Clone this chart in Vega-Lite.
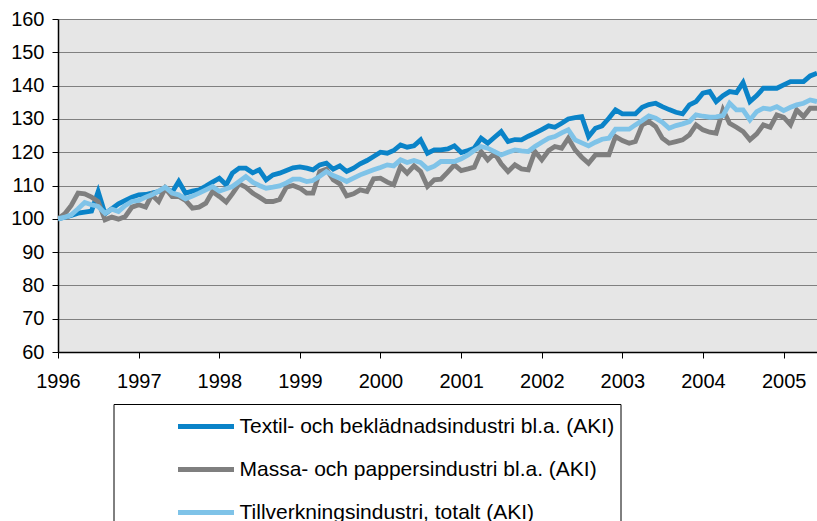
{
  "$schema": "https://vega.github.io/schema/vega-lite/v6.json",
  "autosize": "none",
  "width": 759,
  "height": 333,
  "padding": {"left": 58, "top": 19, "right": 0, "bottom": 169},
  "background": "white",
  "config": {
    "view": {"stroke": null, "fill": "#E6E6E6"},
    "font": "Liberation Sans",
    "axis": {"labelFont": "Liberation Sans", "labelFontSize": 20, "labelColor": "black", "domainColor": "black", "domainWidth": 1.5, "tickColor": "black", "tickWidth": 1, "tickSize": 6, "title": null}
  },
  "data": {
    "values": [
      {"d":"1996-01","T":100,"M":100,"V":100},{"d":"1996-02","T":100.5,"M":101.5,"V":100.5},{"d":"1996-03","T":101,"M":104,"V":101.2},{"d":"1996-04","T":101.7,"M":107.7,"V":103},{"d":"1996-05","T":102,"M":107.5,"V":104.9},{"d":"1996-06","T":102.3,"M":106.5,"V":104.2},{"d":"1996-07","T":108.2,"M":105.2,"V":103.7},{"d":"1996-08","T":101.5,"M":99.7,"V":101.7},{"d":"1996-09","T":103,"M":100.5,"V":102.9},{"d":"1996-10","T":104.5,"M":99.9,"V":102.2},{"d":"1996-11","T":105.5,"M":100.7,"V":104},{"d":"1996-12","T":106.5,"M":103.5,"V":105.2},
      {"d":"1997-01","T":107.2,"M":104.2,"V":105.5},{"d":"1997-02","T":107.3,"M":103.5,"V":106.5},{"d":"1997-03","T":107.7,"M":107.2,"V":107.2},{"d":"1997-04","T":108.2,"M":105.2,"V":108.3},{"d":"1997-05","T":109.3,"M":109.2,"V":109.5},{"d":"1997-06","T":108,"M":106.7,"V":107.7},{"d":"1997-07","T":111.2,"M":106.7,"V":107.2},{"d":"1997-08","T":107.7,"M":105.5,"V":106},{"d":"1997-09","T":108.3,"M":103.2,"V":106.8},{"d":"1997-10","T":108.7,"M":103.5,"V":107.7},{"d":"1997-11","T":109.8,"M":104.7,"V":108.7},{"d":"1997-12","T":111,"M":108.2,"V":109.7},
      {"d":"1998-01","T":112.2,"M":106.7,"V":108.3},{"d":"1998-02","T":110.2,"M":105,"V":109},{"d":"1998-03","T":113.7,"M":107.5,"V":109.7},{"d":"1998-04","T":115.2,"M":110.5,"V":111.2},{"d":"1998-05","T":115.2,"M":109.5,"V":112.7},{"d":"1998-06","T":113.8,"M":107.7,"V":111},{"d":"1998-07","T":114.7,"M":106.5,"V":110},{"d":"1998-08","T":111.7,"M":105.2,"V":109.2},{"d":"1998-09","T":113.2,"M":105.2,"V":109.5},{"d":"1998-10","T":113.7,"M":105.8,"V":109.9},{"d":"1998-11","T":114.5,"M":109.5,"V":110.8},{"d":"1998-12","T":115.3,"M":110,"V":111.9},
      {"d":"1999-01","T":115.6,"M":109.2,"V":111.9},{"d":"1999-02","T":115.2,"M":107.7,"V":111.2},{"d":"1999-03","T":114.7,"M":107.7,"V":111.5},{"d":"1999-04","T":116.2,"M":114.2,"V":112.8},{"d":"1999-05","T":116.7,"M":114.9,"V":114.2},{"d":"1999-06","T":114.9,"M":111.7,"V":113},{"d":"1999-07","T":115.9,"M":110.5,"V":112.2},{"d":"1999-08","T":114.2,"M":106.9,"V":111.2},{"d":"1999-09","T":115.2,"M":107.5,"V":112.2},{"d":"1999-10","T":116.5,"M":108.7,"V":113.2},{"d":"1999-11","T":117.5,"M":108.2,"V":114},{"d":"1999-12","T":118.7,"M":112,"V":114.7},
      {"d":"2000-01","T":120,"M":112.2,"V":115.4},{"d":"2000-02","T":119.7,"M":111,"V":116.2},{"d":"2000-03","T":120.5,"M":110.2,"V":115.9},{"d":"2000-04","T":122.2,"M":115.7,"V":117.7},{"d":"2000-05","T":121.5,"M":113.7,"V":116.9},{"d":"2000-06","T":121.9,"M":115.9,"V":117.5},{"d":"2000-07","T":123.7,"M":114.2,"V":116.9},{"d":"2000-08","T":119.7,"M":109.7,"V":115},{"d":"2000-09","T":120.7,"M":111.7,"V":115.8},{"d":"2000-10","T":120.7,"M":111.9,"V":117.2},{"d":"2000-11","T":121,"M":114,"V":117.2},{"d":"2000-12","T":121.9,"M":116.2,"V":117.2},
      {"d":"2001-01","T":119.9,"M":114.5,"V":118},{"d":"2001-02","T":120.5,"M":115,"V":119.2},{"d":"2001-03","T":121.2,"M":115.5,"V":120.5},{"d":"2001-04","T":124.2,"M":120.2,"V":121.7},{"d":"2001-05","T":122.7,"M":117.7,"V":121.2},{"d":"2001-06","T":124.5,"M":119.7,"V":120.2},{"d":"2001-07","T":126.2,"M":116.5,"V":119.2},{"d":"2001-08","T":123.2,"M":114.2,"V":120},{"d":"2001-09","T":123.8,"M":116.2,"V":120.7},{"d":"2001-10","T":123.7,"M":115,"V":120.4},{"d":"2001-11","T":124.8,"M":114.7,"V":120.2},{"d":"2001-12","T":125.7,"M":120.2,"V":121.7},
      {"d":"2002-01","T":126.8,"M":117.7,"V":123},{"d":"2002-02","T":127.9,"M":120.5,"V":124.2},{"d":"2002-03","T":127.5,"M":121.7,"V":124.7},{"d":"2002-04","T":128.7,"M":121.2,"V":125.8},{"d":"2002-05","T":130,"M":124.2,"V":126.7},{"d":"2002-06","T":130.4,"M":120.7,"V":123.7},{"d":"2002-07","T":130.7,"M":118.5,"V":122.8},{"d":"2002-08","T":124.7,"M":116.7,"V":121.9},{"d":"2002-09","T":127.2,"M":119.2,"V":123},{"d":"2002-10","T":127.9,"M":119.2,"V":123.9},{"d":"2002-11","T":130.2,"M":119.2,"V":124.2},{"d":"2002-12","T":132.7,"M":124.7,"V":126.9},
      {"d":"2003-01","T":131.5,"M":123.5,"V":126.9},{"d":"2003-02","T":131.5,"M":122.7,"V":126.9},{"d":"2003-03","T":131.5,"M":123.2,"V":128.2},{"d":"2003-04","T":133.5,"M":128.2,"V":129.5},{"d":"2003-05","T":134.3,"M":129.2,"V":130.9},{"d":"2003-06","T":134.7,"M":127.7,"V":130.2},{"d":"2003-07","T":133.7,"M":124.2,"V":129},{"d":"2003-08","T":132.8,"M":122.7,"V":127.2},{"d":"2003-09","T":132,"M":123.2,"V":128},{"d":"2003-10","T":131.5,"M":123.7,"V":128.5},{"d":"2003-11","T":134.2,"M":125.2,"V":129.2},{"d":"2003-12","T":135.2,"M":128.2,"V":131.2},
      {"d":"2004-01","T":137.7,"M":126.7,"V":130.8},{"d":"2004-02","T":138.2,"M":126,"V":130.5},{"d":"2004-03","T":135.2,"M":125.7,"V":130.6},{"d":"2004-04","T":137,"M":132.7,"V":131},{"d":"2004-05","T":138.2,"M":128.7,"V":134.7},{"d":"2004-06","T":137.9,"M":127.5,"V":132.7},{"d":"2004-07","T":140.9,"M":126.2,"V":132.7},{"d":"2004-08","T":135.2,"M":123.7,"V":129.7},{"d":"2004-09","T":137,"M":125.5,"V":132.2},{"d":"2004-10","T":139.2,"M":128.2,"V":133.2},{"d":"2004-11","T":139.2,"M":127.5,"V":132.9},{"d":"2004-12","T":139.2,"M":131.2,"V":133.7},
      {"d":"2005-01","T":140.2,"M":130.5,"V":132.5},{"d":"2005-02","T":141.2,"M":128.2,"V":133.5},{"d":"2005-03","T":141.2,"M":132.7,"V":134.2},{"d":"2005-04","T":141.2,"M":130.7,"V":134.7},{"d":"2005-05","T":142.9,"M":133.2,"V":135.7},{"d":"2005-06","T":143.7,"M":133.2,"V":135.2}
    ]
  },
  "transform": [{"fold": ["T", "M", "V"], "as": ["serie", "varde"]}],
  "mark": {"type": "line", "strokeWidth": 4.8, "strokeJoin": "miter", "clip": true},
  "encoding": {
    "x": {
      "field": "d", "type": "temporal",
      "scale": {"type": "utc", "domain": [{"year": 1996, "month": 1, "date": 1, "utc": true}, {"year": 2005, "month": 6, "date": 1, "utc": true}]},
      "axis": {"format": "%Y", "tickCount": {"interval": "year", "step": 1}, "grid": false, "labelPadding": 13, "labelAngle": 0, "labelAlign": "center", "labelOverlap": false, "labelFlush": false}
    },
    "y": {
      "field": "varde", "type": "quantitative",
      "scale": {"domain": [60, 160], "nice": false, "zero": false},
      "axis": {"values": [60, 70, 80, 90, 100, 110, 120, 130, 140, 150, 160], "grid": true, "gridColor": "#808080", "gridWidth": 1, "labelPadding": 8}
    },
    "color": {
      "field": "serie", "type": "nominal",
      "scale": {"domain": ["T", "M", "V"], "range": ["#0A83C8", "#7F7F7F", "#7FC3E8"]},
      "legend": {
        "orient": "none", "legendX": 55.5, "legendY": 385, "title": null,
        "strokeColor": "black", "fillColor": "white", "padding": 6,
        "symbolType": "M-2,0H2", "symbolSize": 784, "symbolStrokeWidth": 5, "symbolOffset": 70,
        "labelFont": "Liberation Sans", "labelFontSize": 21, "labelColor": "black", "labelOffset": 17, "labelLimit": 600,
        "rowPadding": 16,
        "labelExpr": "datum.label == 'T' ? 'Textil- och beklädnadsindustri bl.a. (AKI)' : datum.label == 'M' ? 'Massa- och pappersindustri bl.a. (AKI)' : 'Tillverkningsindustri, totalt (AKI)'"
      }
    }
  }
}
